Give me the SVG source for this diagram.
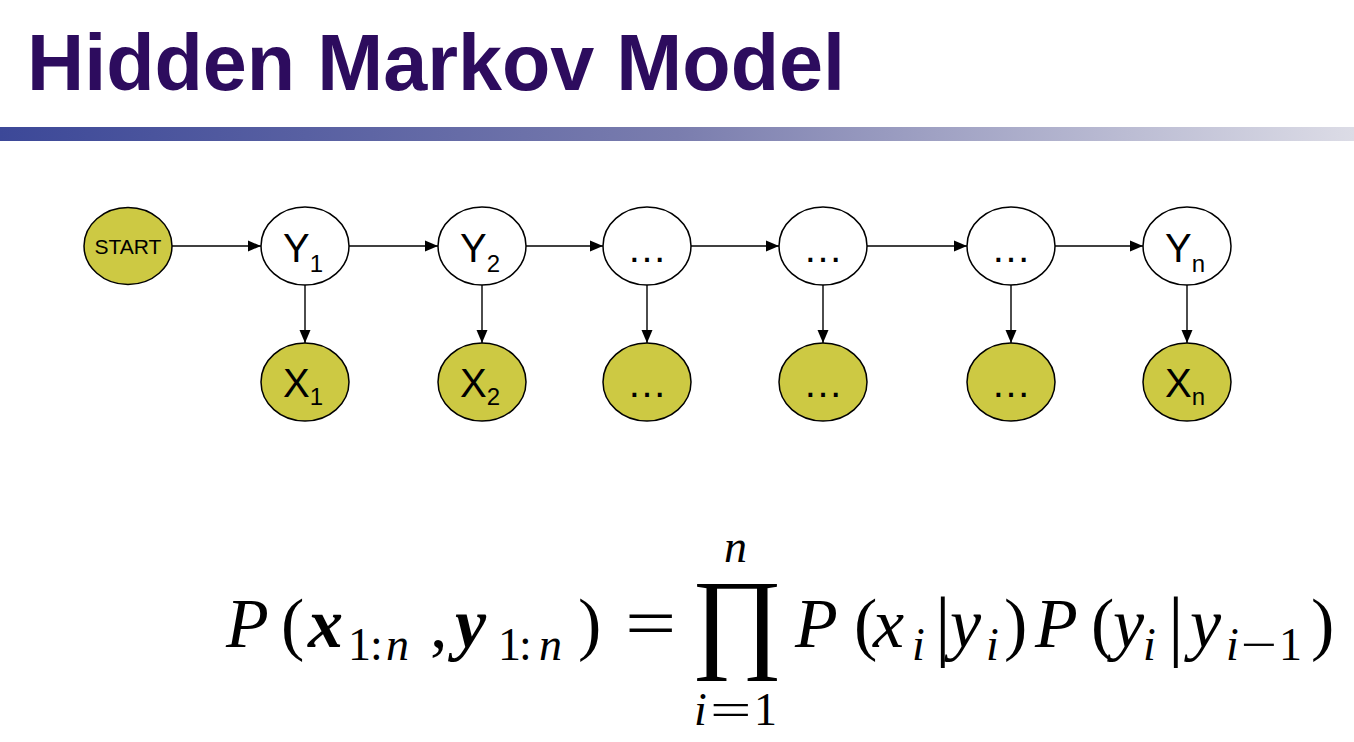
<svg xmlns="http://www.w3.org/2000/svg" width="1354" height="742" viewBox="0 0 1354 742">
<defs>
<linearGradient id="bar" x1="0" y1="0" x2="1" y2="0">
<stop offset="0" stop-color="#3C4898"/>
<stop offset="0.5" stop-color="#7A7DAE"/>
<stop offset="1" stop-color="#DCDCE6"/>
</linearGradient>
<marker id="ah" markerUnits="userSpaceOnUse" markerWidth="13" markerHeight="12" refX="13" refY="6" orient="auto">
<path d="M0,0.5 L13,6 L0,11.5 z" fill="#000"/>
</marker>
</defs>
<style>
.title{font-family:"Liberation Sans",Arial,sans-serif;font-weight:bold;font-size:80px;fill:#2D0C5E}
.hid{fill:#fff;stroke:#000;stroke-width:1.5}
.obs{fill:#CDC943;stroke:#000;stroke-width:1.5}
.lbl{font-family:"Liberation Sans",Arial,sans-serif;font-size:40px;fill:#000}
.sub{font-size:24px}
.st{font-family:"Liberation Sans",Arial,sans-serif;font-size:21px;fill:#000}
.edge{stroke:#000;stroke-width:1.4;fill:none;marker-end:url(#ah)}
.m{font-family:"Liberation Serif","Times New Roman",serif;fill:#000;font-size:70px}
.s{font-size:46px}
.big{font-size:112px}
.bar{font-size:78px}
.it{font-style:italic}
.bi{font-style:italic;font-weight:bold}
</style>
<rect width="1354" height="742" fill="#fff"/>
<text class="title" x="27" y="90" textLength="818" lengthAdjust="spacingAndGlyphs">Hidden Markov Model</text>
<rect x="0" y="127" width="1354" height="14" fill="url(#bar)"/>

<g id="connectors">
<line class="edge" x1="172" y1="246" x2="261" y2="246"/>
<line class="edge" x1="349" y1="246" x2="438" y2="246"/>
<line class="edge" x1="526" y1="246" x2="603" y2="246"/>
<line class="edge" x1="691" y1="246" x2="779" y2="246"/>
<line class="edge" x1="867" y1="246" x2="967" y2="246"/>
<line class="edge" x1="1055" y1="246" x2="1143" y2="246"/>
<line class="edge" x1="305" y1="285" x2="305" y2="343"/>
<line class="edge" x1="482" y1="285" x2="482" y2="343"/>
<line class="edge" x1="647" y1="285" x2="647" y2="343"/>
<line class="edge" x1="823" y1="285" x2="823" y2="343"/>
<line class="edge" x1="1011" y1="285" x2="1011" y2="343"/>
<line class="edge" x1="1187" y1="285" x2="1187" y2="343"/>
</g>

<g id="start"><ellipse class="obs" cx="128" cy="246" rx="44" ry="38.5"/><text class="st" x="128" y="254" text-anchor="middle">START</text></g>
<g id="y1"><ellipse class="hid" cx="305" cy="246" rx="44" ry="39"/><text class="lbl" x="303" y="262" text-anchor="middle">Y<tspan class="sub" dy="10">1</tspan></text></g>
<g id="y2"><ellipse class="hid" cx="482" cy="246" rx="44" ry="39"/><text class="lbl" x="480" y="262" text-anchor="middle">Y<tspan class="sub" dy="10">2</tspan></text></g>
<g id="y3"><ellipse class="hid" cx="647" cy="246" rx="44" ry="39"/><text class="lbl" x="647" y="262" text-anchor="middle">…</text></g>
<g id="y4"><ellipse class="hid" cx="823" cy="246" rx="44" ry="39"/><text class="lbl" x="823" y="262" text-anchor="middle">…</text></g>
<g id="y5"><ellipse class="hid" cx="1011" cy="246" rx="44" ry="39"/><text class="lbl" x="1011" y="262" text-anchor="middle">…</text></g>
<g id="yn"><ellipse class="hid" cx="1187" cy="246" rx="44" ry="39"/><text class="lbl" x="1185" y="262" text-anchor="middle">Y<tspan class="sub" dy="10">n</tspan></text></g>

<g id="x1"><ellipse class="obs" cx="305" cy="382" rx="44" ry="39"/><text class="lbl" x="303" y="397" text-anchor="middle">X<tspan class="sub" dy="8">1</tspan></text></g>
<g id="x2"><ellipse class="obs" cx="482" cy="382" rx="44" ry="39"/><text class="lbl" x="480" y="397" text-anchor="middle">X<tspan class="sub" dy="8">2</tspan></text></g>
<g id="x3"><ellipse class="obs" cx="647" cy="382" rx="44" ry="39"/><text class="lbl" x="647" y="397" text-anchor="middle">…</text></g>
<g id="x4"><ellipse class="obs" cx="823" cy="382" rx="44" ry="39"/><text class="lbl" x="823" y="397" text-anchor="middle">…</text></g>
<g id="x5"><ellipse class="obs" cx="1011" cy="382" rx="44" ry="39"/><text class="lbl" x="1011" y="397" text-anchor="middle">…</text></g>
<g id="xn"><ellipse class="obs" cx="1187" cy="382" rx="44" ry="39"/><text class="lbl" x="1185" y="397" text-anchor="middle">X<tspan class="sub" dy="8">n</tspan></text></g>

<g id="formula">
<text class="m it" x="226" y="647">P</text>
<text class="m" x="281" y="647">(</text>
<text class="m bi" x="308" y="647">x</text>
<text class="m s" x="348" y="660">1</text>
<text class="m s" x="370" y="660">:</text>
<text class="m s it" x="386" y="660">n</text>
<text class="m" x="430" y="647">,</text>
<text class="m bi" x="455" y="647">y</text>
<text class="m s" x="498" y="660">1</text>
<text class="m s" x="519" y="660">:</text>
<text class="m s it" x="539" y="660">n</text>
<text class="m" x="578" y="647">)</text>
<text class="m" transform="translate(625,647) scale(1.3,1)" x="0" y="0">=</text>
<text class="m big" x="691" y="657">∏</text>
<text class="m s it" x="724" y="562">n</text>
<text class="m s it" x="694" y="725">i</text>
<text class="m s" transform="translate(710,725) scale(1.6,1)" x="0" y="0">=</text>
<text class="m s" x="754" y="725">1</text>
<text class="m it" x="795" y="647">P</text>
<text class="m" x="854" y="647">(</text>
<text class="m it" x="873" y="647">x</text>
<text class="m s it" x="912" y="660">i</text>
<text class="m bar" x="935" y="651">|</text>
<text class="m it" x="950" y="647">y</text>
<text class="m s it" x="986" y="660">i</text>
<text class="m" x="1004" y="647">)</text>
<text class="m it" x="1035" y="647">P</text>
<text class="m" x="1091" y="647">(</text>
<text class="m it" x="1113" y="647">y</text>
<text class="m s it" x="1143" y="660">i</text>
<text class="m bar" x="1168" y="651">|</text>
<text class="m it" x="1190" y="647">y</text>
<text class="m s it" x="1226" y="660">i</text>
<text class="m s" transform="translate(1241,660) scale(1.4,1)" x="0" y="0">−</text>
<text class="m s" x="1279" y="660">1</text>
<text class="m" x="1311" y="647">)</text>
</g>
</svg>
